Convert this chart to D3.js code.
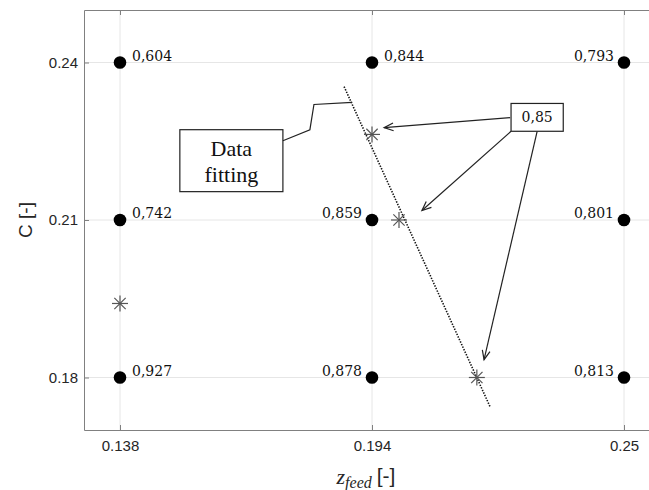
<!DOCTYPE html>
<html><head><meta charset="utf-8">
<script src="https://cdn.jsdelivr.net/npm/d3@7"></script>
<style>body{margin:0;background:#fff}svg{display:block}</style>
</head><body>
<svg id="c" width="649" height="490"></svg>
<script>
// ---- data ----
const xTicks = [0.138, 0.194, 0.25];
const yTicks = [0.18, 0.21, 0.24];
const pointX = [0.138, 0.138, 0.138, 0.194, 0.194, 0.194, 0.25, 0.25, 0.25];
const pointY = [0.24, 0.21, 0.18, 0.24, 0.21, 0.18, 0.24, 0.21, 0.18];
const pointLabel = ["0,604", "0,742", "0,927", "0,844", "0,859", "0,878", "0,793", "0,801", "0,813"];
const labelSide = ["r", "r", "r", "r", "l", "l", "l", "l", "l"];
const starX = [0.138, 0.194, 0.200, 0.2173];
const starY = [0.1941, 0.2263, 0.21, 0.18];
const fitX = [0.1878, 0.2202];
const fitY = [0.2354, 0.1745];
// annotation anchors (data units)
const boxFit = {x0: 0.1513, x1: 0.1742, y0: 0.2272, y1: 0.2154};
const leaderX = [0.1742, 0.1802, 0.1811, 0.1896];
const leaderY = [0.2251, 0.2272, 0.2320, 0.2324];
const box85 = {x0: 0.2249, x1: 0.2365, y0: 0.2322, y1: 0.2269};
const arrowTailX = [0.2247, 0.2249, 0.2307];
const arrowTailY = [0.2295, 0.2269, 0.2269];
const arrowHeadX = [0.1967, 0.2051, 0.2189];
const arrowHeadY = [0.2276, 0.2118, 0.1834];

// ---- scales ----
const x = d3.scaleLinear().domain([0.13, 0.257]).range([84, 655.5]);
const y = d3.scaleLinear().domain([0.17, 0.25]).range([430, 10]);
const svg = d3.select("#c");

// grid
const g = svg.append("g");
g.selectAll(".gx").data(xTicks).enter().append("line")
  .attr("x1", d => x(d)).attr("x2", d => x(d)).attr("y1", y(0.25)).attr("y2", y(0.17))
  .attr("stroke", "#e6e6e6").attr("stroke-width", 1);
g.selectAll(".gy").data(yTicks).enter().append("line")
  .attr("x1", x(0.13)).attr("x2", x(0.257)).attr("y1", d => y(d)).attr("y2", d => y(d))
  .attr("stroke", "#e6e6e6").attr("stroke-width", 1);

// axes
function styleAxis(sel) {
  sel.select(".domain").attr("stroke", "#808080");
  sel.selectAll(".tick line").attr("stroke", "#808080");
  sel.selectAll(".tick text").attr("fill", "#262626")
    .style("font-family", "'Liberation Sans', Arial, sans-serif").style("font-size", "15px");
}
const fmt = d => String(d);
svg.append("g").attr("transform", `translate(0,${y(0.17)})`)
  .call(d3.axisBottom(x).tickValues(xTicks).tickFormat(fmt).tickSizeInner(-5).tickSizeOuter(0).tickPadding(10))
  .call(styleAxis);
svg.append("g").attr("transform", `translate(0,${y(0.25)})`)
  .call(d3.axisTop(x).tickValues(xTicks).tickFormat("").tickSizeInner(-5).tickSizeOuter(0))
  .call(styleAxis);
svg.append("g").attr("transform", `translate(${x(0.13)},0)`)
  .call(d3.axisLeft(y).tickValues(yTicks).tickFormat(fmt).tickSizeInner(-5).tickSizeOuter(0).tickPadding(6))
  .call(styleAxis);
svg.append("g").attr("transform", `translate(${x(0.257)},0)`)
  .call(d3.axisRight(y).tickValues(yTicks).tickFormat("").tickSizeInner(-5).tickSizeOuter(0))
  .call(styleAxis);

// axis labels
svg.append("text").attr("transform", `translate(32,${y(0.21)}) rotate(-90)`)
  .attr("text-anchor", "middle").attr("fill", "#262626")
  .style("font-family", "'Liberation Sans', Arial, sans-serif").style("font-size", "19px")
  .text("C [-]");
const xl = svg.append("text").attr("x", x(0.194) - 6).attr("y", 484).attr("text-anchor", "middle").attr("fill", "#262626");
xl.append("tspan").style("font-family", "'Liberation Serif', serif").style("font-style", "italic").style("font-size", "22px").text("z");
xl.append("tspan").attr("dy", 4).style("font-family", "'Liberation Serif', serif").style("font-style", "italic").style("font-size", "16px").text("feed");
xl.append("tspan").attr("dy", -5).attr("dx", 5).style("font-family", "'Liberation Sans', sans-serif").style("font-size", "21px").text("[-]");

// fit line
svg.append("line")
  .attr("x1", x(fitX[0])).attr("y1", y(fitY[0])).attr("x2", x(fitX[1])).attr("y2", y(fitY[1]))
  .attr("stroke", "#111").attr("stroke-width", 1.6).attr("stroke-dasharray", "1.4,1.4");

// points
const pts = pointX.map((v, i) => ({x: v, y: pointY[i], l: pointLabel[i], s: labelSide[i]}));
svg.selectAll(".pt").data(pts).enter().append("circle")
  .attr("cx", d => x(d.x)).attr("cy", d => y(d.y)).attr("r", 6.3).attr("fill", "#000");
svg.selectAll(".pl").data(pts).enter().append("text")
  .attr("x", d => x(d.x) + (d.s === "r" ? 12 : -10)).attr("y", d => y(d.y) - 2)
  .attr("text-anchor", d => d.s === "r" ? "start" : "end")
  .style("font-family", "'DejaVu Serif', serif").style("font-size", "14px").attr("fill", "#111")
  .text(d => d.l);

// stars
const stars = starX.map((v, i) => ({x: v, y: starY[i]}));
const sg = svg.selectAll(".st").data(stars).enter().append("g")
  .attr("transform", d => `translate(${x(d.x)},${y(d.y)})`);
[0, 45, 90, 135].forEach(a => {
  sg.append("line").attr("x1", -8).attr("x2", 8).attr("y1", 0).attr("y2", 0)
    .attr("transform", `rotate(${a})`).attr("stroke", "#555").attr("stroke-width", 1.2);
});

// Data fitting box
svg.append("rect").attr("x", x(boxFit.x0)).attr("y", y(boxFit.y0))
  .attr("width", x(boxFit.x1) - x(boxFit.x0)).attr("height", y(boxFit.y1) - y(boxFit.y0))
  .attr("fill", "#fff").attr("stroke", "#222").attr("stroke-width", 1.2);
const cx = (x(boxFit.x0) + x(boxFit.x1)) / 2;
svg.append("text").attr("x", cx).attr("y", y(boxFit.y0) + 26).attr("text-anchor", "middle")
  .style("font-family", "'Liberation Serif', serif").style("font-size", "22px").attr("fill", "#111").text("Data");
svg.append("text").attr("x", cx).attr("y", y(boxFit.y0) + 52).attr("text-anchor", "middle")
  .style("font-family", "'Liberation Serif', serif").style("font-size", "22px").attr("fill", "#111").text("fitting");
svg.append("path")
  .attr("d", d3.line()(leaderX.map((v, i) => [x(v), y(leaderY[i])])))
  .attr("fill", "none").attr("stroke", "#222").attr("stroke-width", 1.2);

// 0,85 box and arrows
for (let i = 0; i < arrowTailX.length; i++) {
  const x1 = x(arrowTailX[i]), y1 = y(arrowTailY[i]), x2 = x(arrowHeadX[i]), y2 = y(arrowHeadY[i]);
  svg.append("line").attr("x1", x1).attr("y1", y1).attr("x2", x2).attr("y2", y2)
    .attr("stroke", "#222").attr("stroke-width", 1.2);
  const ang = Math.atan2(y1 - y2, x1 - x2);
  const L = 10, w = 0.4;
  const p = [[x2 + L * Math.cos(ang + w), y2 + L * Math.sin(ang + w)], [x2, y2],
             [x2 + L * Math.cos(ang - w), y2 + L * Math.sin(ang - w)]];
  svg.append("path").attr("d", d3.line()(p)).attr("fill", "none").attr("stroke", "#222").attr("stroke-width", 1.2);
}
svg.append("rect").attr("x", x(box85.x0)).attr("y", y(box85.y0))
  .attr("width", x(box85.x1) - x(box85.x0)).attr("height", y(box85.y1) - y(box85.y0))
  .attr("fill", "#fff").attr("stroke", "#222").attr("stroke-width", 1.2);
svg.append("text").attr("x", (x(box85.x0) + x(box85.x1)) / 2).attr("y", y(box85.y0) + 19)
  .attr("text-anchor", "middle").style("font-family", "'DejaVu Serif', serif").style("font-size", "14px")
  .attr("fill", "#111").text("0,85");
</script>
</body></html>
